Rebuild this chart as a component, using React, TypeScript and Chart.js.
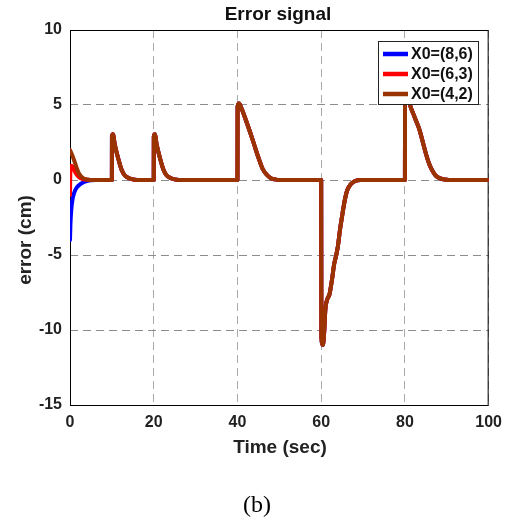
import React, { useEffect, useRef } from "react";
import { Chart, registerables } from "chart.js";

Chart.register(...registerables);

// ---- data ----
const X_TICKS = [0, 20, 40, 60, 80, 100];
const Y_TICKS = [-15, -10, -5, 0, 5, 10];
const SERIES_LABELS = ["X0=(8,6)", "X0=(6,3)", "X0=(4,2)"];
const SERIES_COLORS = ["#0000ff", "#ff0000", "#993300"];

// initial transients (t in sec, error in cm)
const blueStartT = [0, 0.1, 0.3, 0.6, 1, 1.5, 2, 3, 4, 5, 6];
const blueStartE = [-4, -3.0, -2.0, -1.3, -0.85, -0.55, -0.38, -0.18, -0.08, -0.02, 0];
const redStartT = [0, 0.08, 0.3, 0.7, 1.1, 1.6, 2.2, 3, 4, 5];
const redStartE = [-1, 0.5, 0.95, 0.85, 0.6, 0.36, 0.17, 0.06, 0.01, 0];
const brownStartT = [0, 0.4, 1, 1.6, 2.1, 2.7, 3.3, 4.5, 5];
const brownStartE = [2.0, 1.75, 1.3, 0.8, 0.45, 0.22, 0.1, 0.02, 0];

// common response after the transients (all three curves coincide)
const tailT = [
  10, 10.02, 10.25, 10.7, 11.5, 12.3, 13.1, 14.3, 15.5, 16.5,
  20, 20.02, 20.25, 20.7, 21.5, 22.3, 23.1, 24.3, 25.5, 26.5,
  40, 40.03, 40.4, 41, 42, 43, 44, 45, 46, 47, 48, 49, 50,
  60, 60.05, 60.4, 60.7, 61.0, 61.4, 62.0, 62.6, 63.1, 63.6, 64.0, 64.5, 65.0, 65.6, 66.2, 67.0, 68.0, 69.5,
  80, 80.03, 80.4, 81.1, 82.3, 83.5, 84.3, 85.1, 85.9, 86.7, 87.5, 88.3, 89.5, 90.5, 100,
];
const tailE = [
  0, 2.9, 3.05, 2.35, 1.45, 0.7, 0.3, 0.1, 0.02, 0,
  0, 2.9, 3.05, 2.35, 1.45, 0.7, 0.3, 0.1, 0.02, 0,
  0, 4.9, 5.1, 4.75, 4.0, 3.2, 2.35, 1.5, 0.75, 0.35, 0.12, 0.04, 0,
  0, -10.5, -11.0, -10.2, -8.6, -8.0, -7.6, -6.6, -5.6, -5.0, -4.4, -3.3, -2.4, -1.4, -0.7, -0.3, -0.08, 0,
  0, 5.8, 6.0, 5.1, 4.2, 3.33, 2.5, 1.67, 1.0, 0.55, 0.25, 0.13, 0.03, 0, 0,
];

const FONT = "'Liberation Sans', Arial, sans-serif";

function toPoints(t0: number[], e0: number[]) {
  const pts = t0.map((t, i) => ({ x: t, y: e0[i] }));
  tailT.forEach((t, i) => pts.push({ x: t, y: tailE[i] }));
  return pts;
}

const decorPlugin = {
  id: "decor",
  beforeDatasetsDraw(chart: any) {
    const { ctx, chartArea: a } = chart;
    ctx.save();
    ctx.strokeStyle = "#000";
    ctx.lineWidth = 1;
    ctx.strokeRect(a.left + 0.5, a.top + 0.5, a.right - a.left - 1, a.bottom - a.top);
    ctx.restore();
  },
  afterDatasetsDraw(chart: any) {
    const { ctx } = chart;
    ctx.save();
    // legend
    const lx = 378, ly = 41, lw = 100, lh = 63;
    ctx.fillStyle = "#fff";
    ctx.fillRect(lx, ly, lw, lh);
    ctx.strokeStyle = "#222";
    ctx.lineWidth = 1;
    ctx.strokeRect(lx + 0.5, ly + 0.5, lw, lh);
    ctx.font = `bold 16px ${FONT}`;
    ctx.textBaseline = "middle";
    ctx.textAlign = "left";
    SERIES_LABELS.forEach((lab, i) => {
      const y = 54 + i * 20;
      ctx.strokeStyle = SERIES_COLORS[i];
      ctx.lineWidth = 4.5;
      ctx.beginPath();
      ctx.moveTo(383, y);
      ctx.lineTo(408, y);
      ctx.stroke();
      ctx.fillStyle = "#111";
      ctx.fillText(lab, 411, y + 1);
    });
    // title
    ctx.textAlign = "center";
    ctx.font = `bold 19px ${FONT}`;
    ctx.fillText("Error signal", 278, 15);
    // x title
    ctx.fillStyle = "#222";
    ctx.fillText("Time (sec)", 280, 448);
    // y title
    ctx.save();
    ctx.translate(26, 240);
    ctx.rotate(-Math.PI / 2);
    ctx.fillText("error (cm)", 0, 0);
    ctx.restore();
    // caption
    ctx.fillStyle = "#000";
    ctx.font = `24px 'Liberation Serif', 'Times New Roman', serif`;
    ctx.fillText("(b)", 257, 506);
    ctx.restore();
  },
};

export default function App() {
  const ref = useRef<HTMLCanvasElement | null>(null);
  useEffect(() => {
    if (!ref.current) return;
    const series = [
      toPoints(blueStartT, blueStartE),
      toPoints(redStartT, redStartE),
      toPoints(brownStartT, brownStartE),
    ];
    const chart = new Chart(ref.current, {
      type: "line",
      data: {
        datasets: series.map((d, i) => ({
          label: SERIES_LABELS[i],
          data: d,
          borderColor: SERIES_COLORS[i],
          backgroundColor: SERIES_COLORS[i],
          borderWidth: 4,
          pointRadius: 0,
          cubicInterpolationMode: "monotone" as const,
          borderJoinStyle: "round" as const,
          borderCapStyle: "round" as const,
          fill: false,
          order: 2 - i,
        })),
      },
      options: {
        animation: false,
        responsive: false,
        devicePixelRatio: 1,
        events: [],
        layout: { padding: { left: 0, top: 30, right: 21, bottom: 0 } },
        plugins: { legend: { display: false }, tooltip: { enabled: false }, title: { display: false } },
        scales: {
          x: {
            type: "linear",
            min: 0,
            max: 100,
            afterFit: (s: any) => { s.height = 116; },
            afterBuildTicks: (s: any) => { s.ticks = X_TICKS.map((v) => ({ value: v })); },
            ticks: { padding: 8, color: "#222", font: { family: FONT, size: 16, weight: "bold" }, maxRotation: 0 },
            grid: { color: "#aaaaaa", lineWidth: 1, drawTicks: false },
            border: { display: false, dash: [8, 5] },
          },
          y: {
            type: "linear",
            min: -15,
            max: 10,
            afterFit: (s: any) => { s.width = 70; },
            afterBuildTicks: (s: any) => { s.ticks = Y_TICKS.map((v) => ({ value: v })); },
            ticks: { padding: 8, color: "#222", font: { family: FONT, size: 16, weight: "bold" } },
            grid: { color: "#8c8c8c", lineWidth: 1, drawTicks: false },
            border: { display: false, dash: [8, 5] },
          },
        },
      },
      plugins: [decorPlugin],
    });
    return () => chart.destroy();
  }, []);
  return (
    <div style={{ position: "fixed", left: 0, top: 0, width: 510, height: 521, background: "#fff" }}>
      <canvas ref={ref} width={510} height={521} style={{ width: 510, height: 521, display: "block" }} />
    </div>
  );
}
